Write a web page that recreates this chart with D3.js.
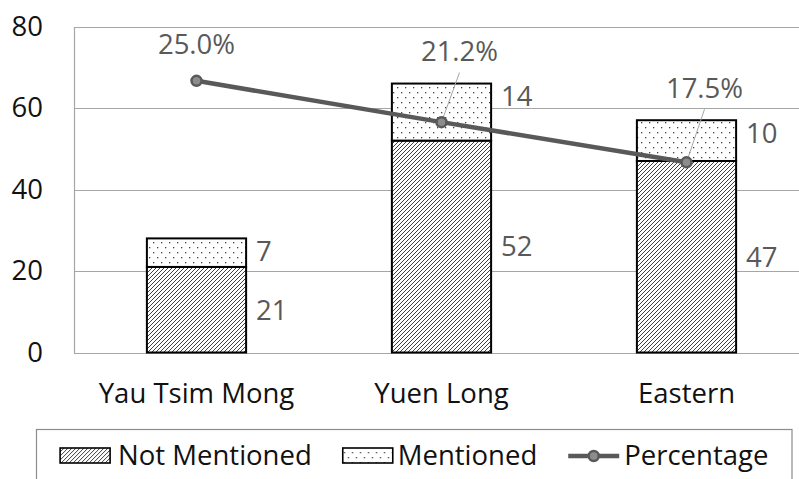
<!DOCTYPE html>
<html>
<head>
<meta charset="utf-8">
<script src="https://cdn.jsdelivr.net/npm/d3@7"></script>
<style>
  html, body { margin: 0; padding: 0; background: #fff; }
  svg { display: block; font-family: "Open Sans", Lato, sans-serif; }
</style>
</head>
<body>
<svg id="chart" width="799" height="479"></svg>
<script>
// ---- data ----
const categories = ["Yau Tsim Mong", "Yuen Long", "Eastern"];
const notMentioned = [21, 52, 47];
const mentioned = [7, 14, 10];
const percentage = [0.25, 0.212, 0.175];
const percentLabels = ["25.0%", "21.2%", "17.5%"];
const yTicks = [0, 20, 40, 60, 80];
const seriesNames = ["Not Mentioned", "Mentioned", "Percentage"];

// ---- layout ----
const svg = d3.select("#chart");
const plot = { left: 74, right: 809, top: 26.5, bottom: 352.5 };
const FS = 27.5;
const FONT = "Open Sans";
const grey = "#595959";

const x = d3.scaleBand().domain(categories)
  .range([plot.left, plot.right]).paddingInner(0.595).paddingOuter(0.2975);
const y = d3.scaleLinear().domain([0, 80]).range([plot.bottom, plot.top]);
const y2 = d3.scaleLinear().domain([0, 0.3]).range([plot.bottom, plot.top]);

// patterns
const defs = svg.append("defs");
const hatch = defs.append("pattern").attr("id", "hatch")
  .attr("patternUnits", "userSpaceOnUse").attr("width", 4).attr("height", 4);
hatch.append("rect").attr("width", 4).attr("height", 4).attr("fill", "#fff");
hatch.append("path").attr("d", "M-1,1 l2,-2 M0,4 l4,-4 M3,5 l2,-2")
  .attr("stroke", "#2b2b2b").attr("stroke-width", 0.9);
const dots = defs.append("pattern").attr("id", "dots")
  .attr("patternUnits", "userSpaceOnUse").attr("width", 8).attr("height", 10);
dots.append("rect").attr("width", 8).attr("height", 10).attr("fill", "#fff");
dots.append("rect").attr("x", 1).attr("y", 2).attr("width", 1.3).attr("height", 1.3).attr("fill", "#444");
dots.append("rect").attr("x", 5).attr("y", 7).attr("width", 1.3).attr("height", 1.3).attr("fill", "#444");

// gridlines
svg.append("g").selectAll("line").data(yTicks).join("line")
  .attr("x1", plot.left).attr("x2", plot.right)
  .attr("y1", d => Math.round(y(d)) + 0.5).attr("y2", d => Math.round(y(d)) + 0.5)
  .attr("stroke", "#a6a6a6").attr("stroke-width", 1.2);
// plot border left
svg.append("line").attr("x1", plot.left + 0.5).attr("x2", plot.left + 0.5)
  .attr("y1", Math.round(plot.top) + 0.5).attr("y2", Math.round(plot.bottom) + 0.5)
  .attr("stroke", "#a6a6a6").attr("stroke-width", 1.2);

// y axis
const yAxis = svg.append("g").attr("transform", `translate(${plot.left},0)`)
  .call(d3.axisLeft(y).tickValues(yTicks).tickSize(0).tickPadding(31));
yAxis.select(".domain").remove();
yAxis.selectAll("text").attr("font-size", FS).attr("fill", "#111").attr("font-family", FONT);

// x axis labels
const xAxis = svg.append("g").attr("transform", `translate(0,${plot.bottom})`)
  .call(d3.axisBottom(x).tickSize(0).tickPadding(31));
xAxis.select(".domain").remove();
xAxis.selectAll("text").attr("font-size", FS).attr("fill", "#111").attr("font-family", FONT);

// bars
const stackData = categories.map((c, i) => ({ c, nm: notMentioned[i], m: mentioned[i] }));
const gBars = svg.append("g");
gBars.selectAll("rect.nm").data(stackData).join("rect").attr("class", "nm")
  .attr("x", d => x(d.c)).attr("width", x.bandwidth())
  .attr("y", d => y(d.nm)).attr("height", d => y(0) - y(d.nm))
  .attr("fill", "url(#hatch)").attr("stroke", "#000").attr("stroke-width", 2);
gBars.selectAll("rect.m").data(stackData).join("rect").attr("class", "m")
  .attr("x", d => x(d.c)).attr("width", x.bandwidth())
  .attr("y", d => y(d.nm + d.m)).attr("height", d => y(d.nm) - y(d.nm + d.m))
  .attr("fill", "url(#dots)").attr("stroke", "#000").attr("stroke-width", 2);

// bar value labels
const gLab = svg.append("g").attr("font-size", FS).attr("fill", grey).attr("font-family", FONT);
gLab.selectAll("text.m").data(stackData).join("text").attr("class", "m")
  .attr("x", d => x(d.c) + x.bandwidth() + 10)
  .attr("y", d => y(d.nm + d.m) + 13).attr("dy", "0.36em")
  .text(d => d.m);
gLab.selectAll("text.nm").data(stackData).join("text").attr("class", "nm")
  .attr("x", d => x(d.c) + x.bandwidth() + 10)
  .attr("y", d => y(d.nm / 2)).attr("dy", "0.36em")
  .text(d => d.nm);

// percentage line
const pts = categories.map((c, i) => ({
  c, px: x(c) + x.bandwidth() / 2, py: y2(percentage[i]),
  top: y(notMentioned[i] + mentioned[i]), label: percentLabels[i]
}));
pts.forEach(p => {
  if (p.top < p.py - 10) { p.lx = p.px + 18; p.ly = p.top - 32; p.leader = true; }
  else { p.lx = p.px; p.ly = p.py - 37; p.leader = false; }
});
svg.append("g").selectAll("line").data(pts.filter(p => p.leader)).join("line")
  .attr("x1", p => p.lx).attr("y1", p => p.ly + 21)
  .attr("x2", p => p.px).attr("y2", p => p.py)
  .attr("stroke", "#a6a6a6").attr("stroke-width", 1);
svg.append("path").datum(pts)
  .attr("d", d3.line().x(p => p.px).y(p => p.py))
  .attr("fill", "none").attr("stroke", grey).attr("stroke-width", 4.5);
svg.append("g").selectAll("circle").data(pts).join("circle")
  .attr("cx", p => p.px).attr("cy", p => p.py).attr("r", 5)
  .attr("fill", "#8c8c8c").attr("stroke", grey).attr("stroke-width", 2.5);
svg.append("g").attr("font-size", FS).attr("fill", grey).attr("text-anchor", "middle")
  .attr("font-family", FONT)
  .selectAll("text").data(pts).join("text")
  .attr("x", p => p.lx).attr("y", p => p.ly).attr("dy", "0.36em")
  .text(p => p.label);

// legend
const legBox = { x: 36.5, y: 429.5, w: 755.5, h: 70 };
svg.append("rect").attr("x", legBox.x).attr("y", legBox.y)
  .attr("width", legBox.w).attr("height", legBox.h)
  .attr("fill", "none").attr("stroke", "#8c8c8c").attr("stroke-width", 1.2);
const leg = svg.append("g");
let cx = 0;
const baseY = 465;
seriesNames.forEach((name, i) => {
  const g = leg.append("g").attr("transform", `translate(${cx},0)`);
  let sw;
  if (i < 2) {
    g.append("rect").attr("x", 0).attr("y", 448).attr("width", 50).attr("height", 15)
      .attr("fill", i === 0 ? "url(#hatch)" : "url(#dots)")
      .attr("stroke", "#000").attr("stroke-width", 1.6);
    sw = 50 + (i === 0 ? 8 : 5);
  } else {
    g.append("line").attr("x1", 0).attr("x2", 51).attr("y1", 456).attr("y2", 456)
      .attr("stroke", grey).attr("stroke-width", 4.5);
    g.append("circle").attr("cx", 25.5).attr("cy", 456).attr("r", 5)
      .attr("fill", "#8c8c8c").attr("stroke", grey).attr("stroke-width", 2.5);
    sw = 56;
  }
  const t = g.append("text").attr("x", sw).attr("y", baseY)
    .attr("font-size", FS).attr("font-family", FONT).attr("fill", "#111").text(name);
  const w = t.node().getComputedTextLength();
  cx += sw + w + 31;
});
const totalW = cx - 31;
const legCenter = legBox.x + legBox.w / 2;
leg.attr("transform", `translate(${legCenter - totalW / 2},0)`);
</script>
</body>
</html>
